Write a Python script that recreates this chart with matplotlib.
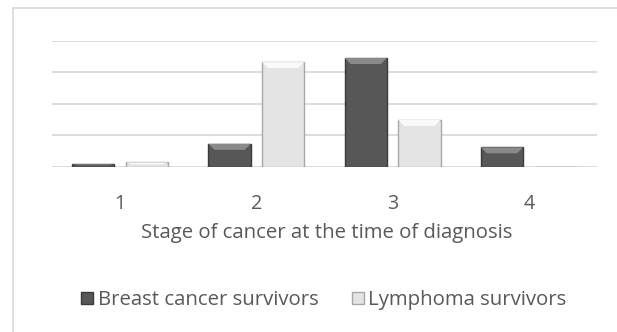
import matplotlib
matplotlib.use("Agg")
import matplotlib.pyplot as plt
import numpy as np
from matplotlib.patches import Polygon
from matplotlib.lines import Line2D

stages = ["1", "2", "3", "4"]
breast = [0.7, 7.2, 34.5, 6.1]
lymphoma = [1.3, 33.2, 14.8, 0.0]
series_names = ["Breast cancer survivors", "Lymphoma survivors"]

W, H = 617, 332
FONT = ["Open Sans", "DejaVu Sans"]
TXT = "#595959"
FS = 14.7

fig = plt.figure(figsize=(W / 100, H / 100), dpi=100)
fig.patch.set_facecolor("white")

# chart frame: top and left edges
fx, fy = 13 / W, 1 - 8 / H
fig.add_artist(Line2D([fx, 1.0], [fy, fy], transform=fig.transFigure,
                      color="#d9d9d9", linewidth=1.2))
fig.add_artist(Line2D([fx, fx], [0.0, fy], transform=fig.transFigure,
                      color="#d9d9d9", linewidth=1.2))

left_px, right_px, top_px, base_px = 52, 597, 40.7, 166.5
ax = fig.add_axes([left_px / W, 1 - base_px / H, (right_px - left_px) / W,
                   (base_px - top_px) / H])
ax.set_xlim(-0.5, 3.5)
ax.set_ylim(0, 40)
ax.set_yticks([0, 10, 20, 30, 40])
ax.yaxis.grid(True, color="#d9d9d9", linewidth=1.3)
ax.set_axisbelow(True)
for s in ax.spines.values():
    s.set_visible(False)
ax.tick_params(axis="y", left=False, labelleft=False)
ax.tick_params(axis="x", bottom=False, pad=16, labelsize=FS - 0.5, labelcolor=TXT)

x = np.arange(len(stages))
bw = 0.31
off = 0.197

styles = [
    dict(face="#575757", edge="#3a3a3a", bevel="#8a8a8a"),
    dict(face="#e4e4e4", edge="#a8a8a8", bevel="#fafafa"),
]

# bevel depth in data units (about 6 px)
px_per_unit_y = (base_px - top_px) / 40
px_per_unit_x = (right_px - left_px) / 4
bev_y = 6 / px_per_unit_y
bev_x = 6 / px_per_unit_x

for vals, sign, st in [(breast, -1, styles[0]), (lymphoma, 1, styles[1])]:
    xs = x + sign * off
    bars = ax.bar(xs, vals, width=bw, color=st["face"], edgecolor=st["edge"],
                  linewidth=1.0, zorder=3)
    for b in bars:
        h = b.get_height()
        if h <= 0:
            continue
        x0 = b.get_x()
        x1 = x0 + b.get_width()
        d = min(bev_y, h * 0.45)
        dx = min(bev_x, bw * 0.2)
        poly = Polygon([(x0, h), (x1, h), (x1 - dx, h - d), (x0 + dx, h - d)],
                       closed=True, facecolor=st["bevel"], edgecolor="none",
                       zorder=4)
        ax.add_patch(poly)

ax.set_xticks(x)
ax.set_xticklabels(stages)

fig.text(326.5 / W, 1 - 233 / H,
         "Stage of cancer at the time of diagnosis",
         ha="center", va="center", fontsize=FS, color=TXT, family=FONT)

handles = [
    Line2D([], [], marker="s", linestyle="none", markersize=8.5,
           markerfacecolor=styles[0]["face"], markeredgecolor=styles[0]["edge"]),
    Line2D([], [], marker="s", linestyle="none", markersize=8.5,
           markerfacecolor=styles[1]["face"], markeredgecolor=styles[1]["edge"]),
]
leg = fig.legend(handles, series_names, loc="center",
                 bbox_to_anchor=(322.5 / W, 1 - 300 / H), ncol=2, frameon=False,
                 fontsize=FS, handletextpad=0.05, columnspacing=1.5,
                 handlelength=0.9, labelcolor=TXT)

for t in ax.get_xticklabels() + leg.get_texts():
    t.set_family(FONT)

fig.savefig("out.png", dpi=100)
